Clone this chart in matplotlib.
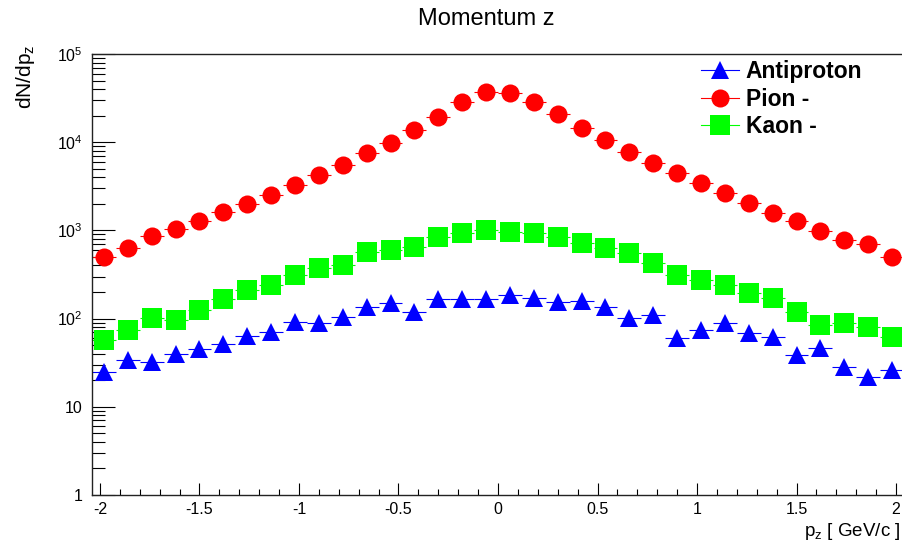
import matplotlib
matplotlib.use("Agg")
import matplotlib.pyplot as plt
from matplotlib.lines import Line2D
from matplotlib.ticker import FixedLocator, FixedFormatter, MultipleLocator

plt.rcParams['font.family'] = ['Liberation Sans', 'DejaVu Sans']
plt.rcParams['mathtext.fontset'] = 'custom'
plt.rcParams['mathtext.rm'] = 'Liberation Sans'
plt.rcParams['mathtext.it'] = 'Liberation Sans'
plt.rcParams['axes.unicode_minus'] = False

############################ DATA ############################

# bin centres, 34 bins of 0.12 GeV/c between -2.04 and 2.04
pz = [-1.98, -1.86, -1.74, -1.62, -1.50, -1.38, -1.26, -1.14, -1.02, -0.90,
      -0.78, -0.66, -0.54, -0.42, -0.30, -0.18, -0.06, 0.06, 0.18, 0.30,
      0.42, 0.54, 0.66, 0.78, 0.90, 1.02, 1.14, 1.26, 1.38, 1.50,
      1.62, 1.74, 1.86, 1.98]
bin_half = 0.06

antiproton = [24.6, 34.0, 32.0, 39.7, 45.2, 51.5, 63.5, 70.5, 92.2, 88.5,
              103.5, 136, 151, 120, 166, 166, 166, 185, 170, 156,
              160, 136, 101, 110, 59.8, 74.3, 88.5, 68.1, 62.4, 38.7,
              46.0, 28.5, 21.9, 26.1]

pion = [504, 637, 865, 1029, 1268, 1618, 1977, 2519, 3273, 4249,
        5513, 7480, 9720, 13740, 19450, 28770, 37400, 36500, 28770, 20700,
        14380, 10590, 7800, 5860, 4440, 3420, 2635, 2062, 1588, 1278,
        985, 778, 695, 504]

kaon = [57.1, 74.2, 100.8, 96.4, 125, 167, 211, 240, 312, 372,
        405, 573, 600, 653, 849, 927, 1011, 951, 927, 849,
        714, 627, 550, 424, 312, 274, 240, 194, 170, 120,
        84.5, 88.5, 80.9, 62.4]

ytick_vals = [1, 10, 100, 1000, 10000, 100000]
ytick_labels = ['1', '10', r'$\mathregular{10^{2}}$', r'$\mathregular{10^{3}}$',
                r'$\mathregular{10^{4}}$', r'$\mathregular{10^{5}}$']
xtick_vals = [-2, -1.5, -1, -0.5, 0, 0.5, 1, 1.5, 2]
xtick_labels = ['-2', '-1.5', '-1', '-0.5', '0', '0.5', '1', '1.5', '2']

############################ PLOT ############################

W, H = 903, 542
fig = plt.figure(figsize=(W / 100, H / 100), dpi=100)
ax = fig.add_axes([92 / W, 1 - 495 / H, (904 - 92) / W, (495 - 54) / H])

series = [
    (antiproton, 'Antiproton', '#0000ff', '^', 13.5),
    (pion, 'Pion -', '#ff0000', 'o', 13),
    (kaon, 'Kaon -', '#00ff00', 's', 14),
]

handles = []
for vals, name, col, mk, ms in series:
    ax.errorbar(pz, vals, xerr=bin_half, fmt=mk, color=col, ms=ms,
                mec=col, mew=0, elinewidth=0.8, capsize=0)
    handles.append(Line2D([], [], color=col, marker=mk, ms=ms, mew=0, lw=0.8))

ax.set_yscale('log')
ax.set_ylim(1, 1e5)
ax.set_xlim(-2.04, 2.04)

ax.yaxis.set_major_locator(FixedLocator(ytick_vals))
ax.yaxis.set_major_formatter(FixedFormatter(ytick_labels))
ax.xaxis.set_major_locator(FixedLocator(xtick_vals))
ax.xaxis.set_major_formatter(FixedFormatter(xtick_labels))
ax.xaxis.set_minor_locator(MultipleLocator(0.1))

ax.tick_params(which='both', direction='in', top=False, right=False,
               labelsize=11.5, colors='black', width=0.8)
ax.tick_params(axis='y', which='major', length=16.5, pad=6.5)
ax.tick_params(axis='y', which='minor', length=9)
ax.tick_params(axis='x', which='major', length=9, pad=5)
ax.tick_params(axis='x', which='minor', length=4.5)
for s in ax.spines.values():
    s.set_linewidth(1.0)
    s.set_color('#222222')

leg = ax.legend(handles, [s[1] for s in series], loc='upper left',
                bbox_to_anchor=(701 / W, 1 - 60 / H), bbox_transform=fig.transFigure,
                frameon=False, prop={'weight': 'bold', 'size': 16.5},
                handlelength=1.65, handletextpad=0.3, labelspacing=0.2,
                borderpad=0, borderaxespad=0)

fig.text(486 / W, 1 - 19 / H, 'Momentum z', ha='center', va='center', fontsize=17)
fig.text(26 / W, 1 - 44 / H, r'dN/dp$_{z}$', ha='center', va='top',
         rotation=90, fontsize=15)
fig.text(900 / W, 1 - 531 / H, r'p$_{z}$ [ GeV/c ]', ha='right', va='center',
         fontsize=13.5)

fig.savefig('out.png', dpi=100)
